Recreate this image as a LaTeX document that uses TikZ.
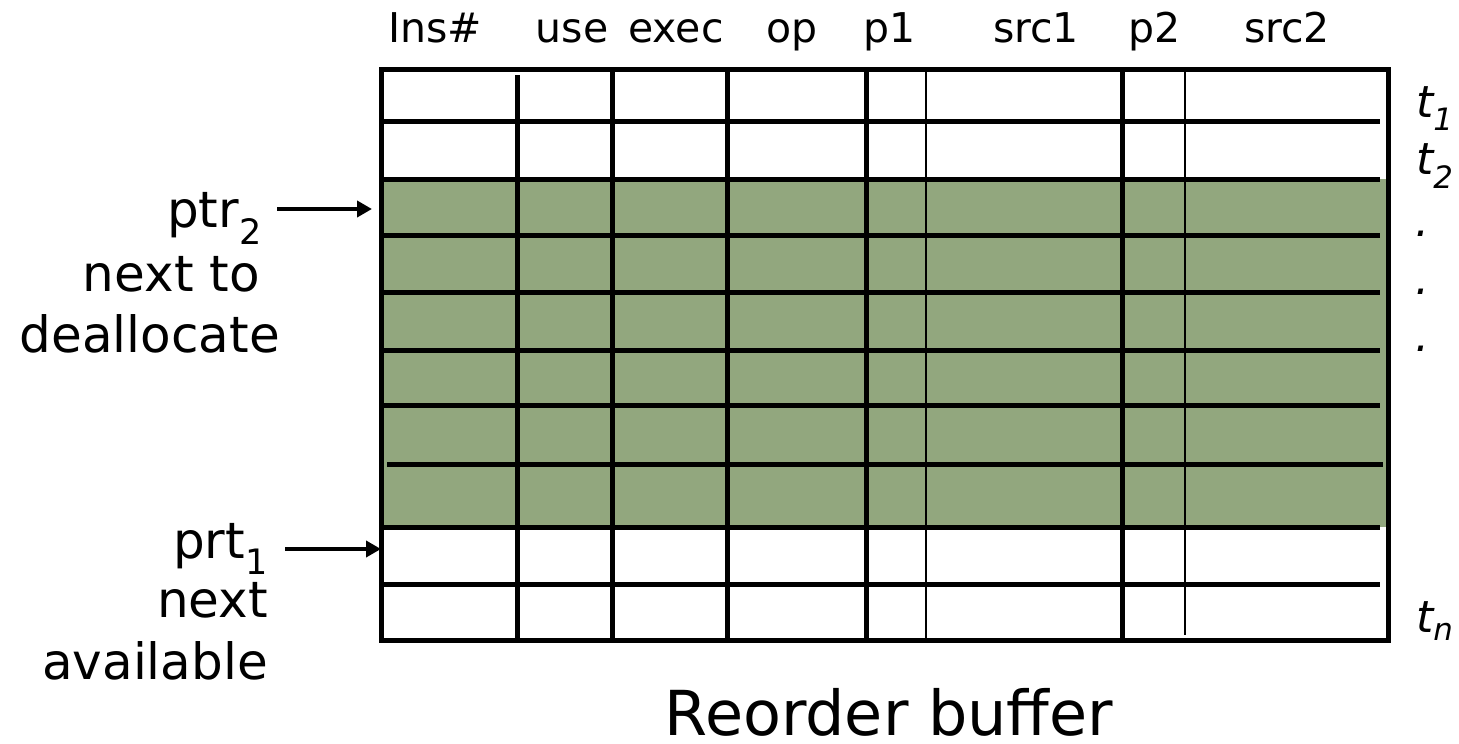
\documentclass[tikz,border=0pt]{standalone}
\usepackage{fontspec}
\setmainfont{DejaVu Sans}
\usetikzlibrary{arrows.meta}
\definecolor{robgreen}{RGB}{146,167,126}
\newcommand\hdrfont{\fontsize{41}{49}\selectfont}
\newcommand\lblfont{\fontsize{50}{60}\selectfont}
\newcommand\ttlfont{\fontsize{62}{74}\selectfont}
\newcommand\tlabfont{\fontsize{44}{52}\selectfont\itshape}
\begin{document}
\begin{tikzpicture}[x=1pt,y=-1pt,
  thickln/.style={line width=5pt},
  thinln/.style={line width=2pt},
  hdr/.style={inner sep=0pt,anchor=base,font=\hdrfont},
  lbl/.style={inner sep=0pt,anchor=base east,font=\lblfont},
  tlab/.style={inner sep=0pt,anchor=base west,font=\tlabfont},
  arr/.style={line width=4pt,-{Triangle[length=15pt,width=16pt]}}]
\useasboundingbox (0,0) rectangle (1459,744);
% green region
\fill[robgreen] (383,179) rectangle (1386,527);
% horizontal lines
\foreach \yy in {121,179,235,292,350,405,527,584}
  \draw[thickln] (381,\yy) -- (1380,\yy);
\draw[thickln] (387,464) -- (1383,464);
% vertical lines
\draw[thickln] (517,75) -- (517,643);
\foreach \xx in {612,727,866,1122}
  \draw[thickln] (\xx,69) -- (\xx,640);
\draw[thinln] (926,69) -- (926,640);
\draw[thinln] (1185,69) -- (1185,635);
% outer border
\draw[thickln] (381,69) rectangle (1388,640);
% headers
\node[hdr] (hIns) at (435,42) {Ins\#};
\node[hdr] (hUse) at (572,42) {use};
\node[hdr] (hExec) at (676,42) {exec};
\node[hdr] (hOp) at (792,42) {op};
\node[hdr] (hP1) at (890,42) {p1};
\node[hdr] (hSrc1) at (1036,42) {src1};
\node[hdr] (hP2) at (1155,42) {p2};
\node[hdr] (hSrc2) at (1287,42) {src2};
% left labels
\node[lbl] (ptr2) at (262,227) {ptr\textsubscript{2}};
\node[lbl] (nextto) at (260,291) {next to};
\node[lbl] (dealloc) at (280,352) {deallocate};
\node[lbl] (prt1) at (268,558) {prt\textsubscript{1}};
\node[lbl] (next) at (268,617) {next};
\node[lbl] (avail) at (268,679) {available};
% arrows
\coordinate (a2s) at (277,209);
\coordinate (a2e) at (372,209);
\coordinate (a1s) at (285,549);
\coordinate (a1e) at (381,549);
\draw[arr] (a2s) -- (a2e);
\draw[arr] (a1s) -- (a1e);
% right labels
\node[tlab] (t1) at (1416,117) {t\textsubscript{1}};
\node[tlab] (t2) at (1416,174) {t\textsubscript{2}};
\node[tlab] (d1) at (1415,236) {.};
\node[tlab] (d2) at (1415,294) {.};
\node[tlab] (d3) at (1415,351) {.};
\node[tlab] (tn) at (1416,632) {t\textsubscript{n}};
% title
\node[inner sep=0pt,anchor=base,font=\ttlfont] (title) at (889,735) {Reorder buffer};
\end{tikzpicture}
\end{document}
